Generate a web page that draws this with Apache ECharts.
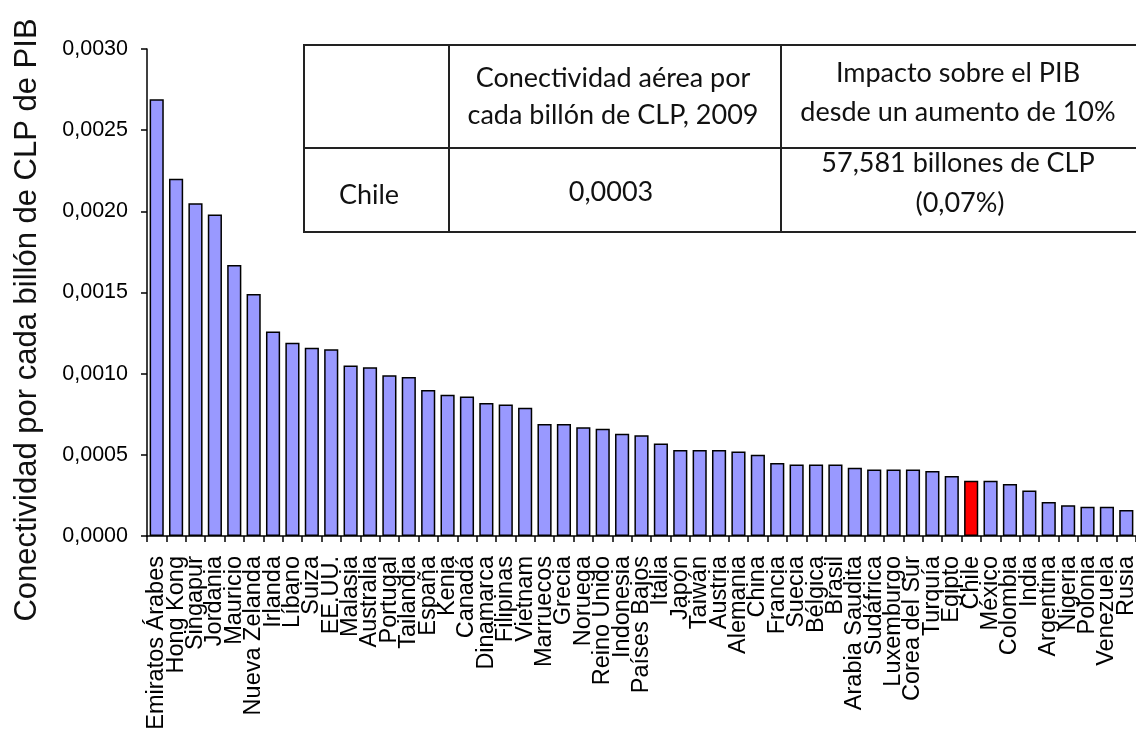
<!DOCTYPE html>
<html>
<head>
<meta charset="utf-8">
<script src="https://cdn.jsdelivr.net/npm/echarts@6/dist/echarts.min.js"></script>
<style>
html,body{margin:0;padding:0;background:#fff;}
#c{width:1136px;height:731px;}
</style>
</head>
<body>
<div id="c"></div>
<script>
const categories = ["Emiratos Árabes","Hong Kong","Singapur","Jordania","Mauricio","Nueva Zelanda","Irlanda","Líbano","Suiza","EE.UU.","Malasia","Australia","Portugal","Tailandia","España","Kenia","Canadá","Dinamarca","Filipinas","Vietnam","Marruecos","Grecia","Noruega","Reino Unido","Indonesia","Países Bajos","Italia","Japón","Taiwán","Austria","Alemania","China","Francia","Suecia","Bélgica","Brasil","Arabia Saudita","Sudáfrica","Luxemburgo","Corea del Sur","Turquía","Egipto","Chile","México","Colombia","India","Argentina","Nigeria","Polonia","Venezuela","Rusia"];
const values = [0.00269,0.00220,0.00205,0.00198,0.00167,0.00149,0.00126,0.00119,0.00116,0.00115,0.00105,0.00104,0.00099,0.00098,0.00090,0.00087,0.00086,0.00082,0.00081,0.00079,0.00069,0.00069,0.00067,0.00066,0.00063,0.00062,0.00057,0.00053,0.00053,0.00053,0.00052,0.00050,0.00045,0.00044,0.00044,0.00044,0.00042,0.00041,0.00041,0.00041,0.00040,0.00037,0.00034,0.00034,0.00032,0.00028,0.00021,0.00019,0.00018,0.00018,0.00016];
const highlighted = "Chile";
const yTitle = "Conectividad por cada billón de CLP de PIB";
const tableHeader = [["Conectividad aérea por","cada billón de CLP, 2009"],["Impacto sobre el PIB","desde un aumento de 10%"]];
const tableRow = ["Chile","0,0003",["57,581 billones de CLP","(0,07%)"]];

const chart = echarts.init(document.getElementById('c'), null, {renderer:'canvas'});
const data = values.map((v,i)=> categories[i]===highlighted
  ? {value:v, itemStyle:{color:'#ff0000'}}
  : v);

const tf = "'Lato', sans-serif";
const tsz = 27;
const lc = '#222';
function txt(x,y,s){return {type:'text',z:100,style:{text:s,x:x,y:y,align:'center',verticalAlign:'middle',font:tsz+'px '+tf,fill:'#111'}};}
function line(x1,y1,x2,y2){return {type:'line',z:99,shape:{x1,y1,x2,y2},style:{stroke:lc,lineWidth:2}};}

const graphic = [
  {type:'rect',z:98,shape:{x:304,y:45,width:840,height:187},style:{fill:'#fff'}},
  line(303,45,1140,45), line(303,232,1140,232), line(304,45,304,232),
  line(449,45,449,232), line(781,45,781,232), line(304,148,1140,148),
  txt(613,78,tableHeader[0][0]), txt(613,115,tableHeader[0][1]),
  txt(958,73,tableHeader[1][0]), txt(958,112,tableHeader[1][1]),
  txt(369,195,tableRow[0]), txt(611,192,tableRow[1]),
  txt(958,163,tableRow[2][0]), txt(960,203,tableRow[2][1]),
  {type:'text',z:100,x:27,y:320,rotation:Math.PI/2,style:{text:yTitle,x:0,y:0,align:'center',verticalAlign:'middle',font:"31px 'Liberation Sans', Arial, sans-serif",fill:'#111'}}
];

chart.setOption({
  animation:false,
  backgroundColor:'#fff',
  grid:{left:147,right:0,top:49,bottom:195,outerBoundsMode:'none',containLabel:false},
  xAxis:{type:'category',data:categories,
    axisLine:{lineStyle:{color:'#000',width:1.5}},
    axisTick:{show:true,length:6,lineStyle:{color:'#000',width:1.5},alignWithLabel:false},
    axisLabel:{interval:0,rotate:90,margin:20,fontSize:23.5,color:'#000',fontFamily:"'Liberation Sans', Arial, sans-serif"},
    splitLine:{show:false}},
  yAxis:{type:'value',min:0,max:0.003,interval:0.0005,
    axisLine:{show:true,lineStyle:{color:'#000',width:1.5}},
    axisTick:{show:true,length:6,lineStyle:{color:'#000',width:1.5}},
    axisLabel:{margin:19,fontSize:21.5,color:'#000',fontFamily:"'Liberation Sans', Arial, sans-serif",
      formatter:v=>v.toFixed(4).replace('.',',')},
    splitLine:{show:false}},
  series:[{type:'bar',data:data,barCategoryGap:'27%',
    itemStyle:{color:'#9999ff',borderColor:'#000',borderWidth:1.5}}],
  graphic:graphic
});
</script>
</body>
</html>
